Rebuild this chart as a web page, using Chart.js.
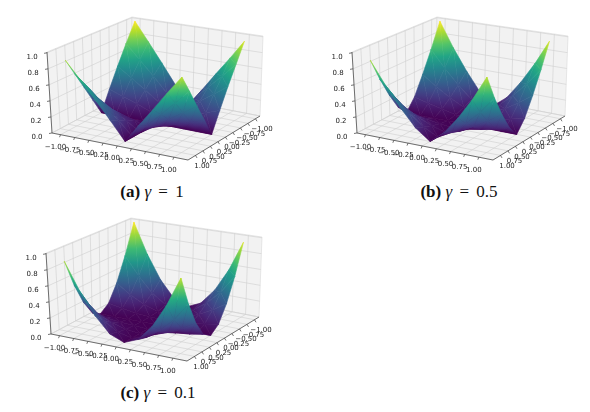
<!DOCTYPE html>
<html>
<head>
<meta charset="utf-8">
<script src="https://cdn.jsdelivr.net/npm/chart.js@4.4.0/dist/chart.umd.min.js"></script>
<style>
  body { margin: 0; background: #fff; width: 590px; height: 412px; position: relative; overflow: hidden; }
  .panel { position: absolute; }
  .cap { position: absolute; width: 200px; text-align: center; font-family: "Liberation Serif", serif; font-size: 17px; color: #111; line-height: 18px; }
  .cap i { font-style: italic; }
  .cap .eq { padding: 0 3px; }
</style>
</head>
<body>
<div class="panel" style="left:0;top:0"><canvas id="surfA" width="285" height="180"></canvas></div>
<div class="panel" style="left:305px;top:0"><canvas id="surfB" width="285" height="180"></canvas></div>
<div class="panel" style="left:-1px;top:201px"><canvas id="surfC" width="285" height="180"></canvas></div>
<div class="cap" style="left:52px;top:183px"><b>(a)</b> <i>γ</i> <span class="eq">=</span> 1</div>
<div class="cap" style="left:359px;top:183px"><b>(b)</b> <i>γ</i> <span class="eq">=</span> 0.5</div>
<div class="cap" style="left:58px;top:384px"><b>(c)</b> <i>γ</i> <span class="eq">=</span> 0.1</div>
<script>
// grid of the surface (x across columns, y down the rows)
var xVals = [-1, -0.75, -0.5, -0.25, 0, 0.25, 0.5, 0.75, 1];
var yVals = [-1, -0.75, -0.5, -0.25, 0, 0.25, 0.5, 0.75, 1];

// z, one row per y value
var zGamma1 = [
    [1.00, 0.75, 0.50, 0.25, 0, 0.24, 0.48, 0.71, 0.95],
    [0.75, 0.56, 0.38, 0.19, 0, 0.18, 0.36, 0.53, 0.71],
    [0.50, 0.38, 0.25, 0.13, 0, 0.12, 0.24, 0.36, 0.48],
    [0.25, 0.19, 0.13, 0.06, 0, 0.06, 0.12, 0.18, 0.24],
    [0, 0, 0, 0, 0, 0, 0, 0, 0],
    [0.22, 0.17, 0.11, 0.06, 0, 0.06, 0.11, 0.17, 0.23],
    [0.44, 0.33, 0.22, 0.11, 0, 0.11, 0.23, 0.34, 0.45],
    [0.66, 0.50, 0.33, 0.17, 0, 0.17, 0.34, 0.51, 0.68],
    [0.88, 0.66, 0.44, 0.22, 0, 0.23, 0.45, 0.68, 0.90]
];
var zGamma05 = [
    [1.00, 0.67, 0.39, 0.15, 0, 0.14, 0.37, 0.64, 0.95],
    [0.67, 0.45, 0.26, 0.10, 0, 0.10, 0.25, 0.43, 0.64],
    [0.39, 0.26, 0.15, 0.06, 0, 0.06, 0.14, 0.25, 0.37],
    [0.15, 0.10, 0.06, 0.02, 0, 0.02, 0.06, 0.10, 0.14],
    [0, 0, 0, 0, 0, 0, 0, 0, 0],
    [0.13, 0.09, 0.05, 0.02, 0, 0.02, 0.05, 0.09, 0.14],
    [0.34, 0.23, 0.13, 0.05, 0, 0.05, 0.14, 0.24, 0.35],
    [0.59, 0.40, 0.23, 0.09, 0, 0.09, 0.23, 0.40, 0.60],
    [0.88, 0.59, 0.34, 0.13, 0, 0.14, 0.35, 0.60, 0.90]
];
var zGamma01 = [
    [1.00, 0.60, 0.29, 0.08, 0, 0.08, 0.28, 0.57, 0.95],
    [0.60, 0.36, 0.17, 0.05, 0, 0.05, 0.17, 0.34, 0.57],
    [0.29, 0.17, 0.08, 0.02, 0, 0.02, 0.08, 0.17, 0.28],
    [0.08, 0.05, 0.02, 0.01, 0, 0.01, 0.02, 0.05, 0.08],
    [0, 0, 0, 0, 0, 0, 0, 0, 0],
    [0.07, 0.04, 0.02, 0.01, 0, 0.01, 0.02, 0.04, 0.07],
    [0.26, 0.15, 0.07, 0.02, 0, 0.02, 0.08, 0.16, 0.26],
    [0.53, 0.32, 0.15, 0.04, 0, 0.04, 0.16, 0.32, 0.54],
    [0.88, 0.53, 0.26, 0.07, 0, 0.07, 0.26, 0.54, 0.90]
];

var xTickVals = [-1, -0.75, -0.5, -0.25, 0, 0.25, 0.5, 0.75, 1];
var xTickLabels = ['\u22121.00', '\u22120.75', '\u22120.50', '\u22120.25', '0.00', '0.25', '0.50', '0.75', '1.00'];
var yTickVals = [-1, -0.75, -0.5, -0.25, 0, 0.25, 0.5, 0.75, 1];
var yTickLabels = ['\u22121.00', '\u22120.75', '\u22120.50', '\u22120.25', '0.00', '0.25', '0.50', '0.75', '1.00'];
var zTickVals = [0, 0.2, 0.4, 0.6, 0.8, 1.0];
var zTickLabels = ['0.0', '0.2', '0.4', '0.6', '0.8', '1.0'];

// axis limits and where the 8 corners of the box land in a panel
var LIM = { x: [-1.15, 1.25], y: [-1.15, 1.25], z: [0, 1.01] };
var BOX = {
    B0: [131, 91], R0: [260, 116], L0: [52, 133], F0: [188, 160],
    B1: [132, 17], R1: [263, 36], L1: [47, 52], F1: [189, 74]
};
var PANEL_W = 285, PANEL_H = 180;

var VIRIDIS = ['#440154', '#482475', '#414487', '#355f8d', '#2a788e', '#21918c',
               '#22a884', '#44bf70', '#7ad151', '#bddf26', '#fde725'];

function hexRgb(h) {
    return [parseInt(h.substr(1, 2), 16), parseInt(h.substr(3, 2), 16), parseInt(h.substr(5, 2), 16)];
}
var VIR_RGB = VIRIDIS.map(hexRgb);

function viridis(t) {
    t = Math.max(0, Math.min(1, t));
    var f = t * (VIR_RGB.length - 1), i = Math.min(Math.floor(f), VIR_RGB.length - 2), k = f - i;
    var a = VIR_RGB[i], b = VIR_RGB[i + 1];
    return 'rgb(' + Math.round(a[0] + (b[0] - a[0]) * k) + ',' +
        Math.round(a[1] + (b[1] - a[1]) * k) + ',' + Math.round(a[2] + (b[2] - a[2]) * k) + ')';
}

// data (x,y,z) -> panel coordinates, trilinear between the box corners
function proj(x, y, z) {
    var u = (x - LIM.x[0]) / (LIM.x[1] - LIM.x[0]);
    var v = (y - LIM.y[0]) / (LIM.y[1] - LIM.y[0]);
    var w = (z - LIM.z[0]) / (LIM.z[1] - LIM.z[0]);
    var out = [];
    for (var k = 0; k < 2; k++) {
        var lo = (1 - u) * (1 - v) * BOX.B0[k] + u * (1 - v) * BOX.R0[k] + (1 - u) * v * BOX.L0[k] + u * v * BOX.F0[k];
        var hi = (1 - u) * (1 - v) * BOX.B1[k] + u * (1 - v) * BOX.R1[k] + (1 - u) * v * BOX.L1[k] + u * v * BOX.F1[k];
        out.push((1 - w) * lo + w * hi);
    }
    return out;
}

// bigger = nearer to the viewer
function nearness(x, y, z) { return 0.44 * x + 0.83 * y + 0.47 * z; }

var surfacePlugin = {
    id: 'surface3d',
    beforeDatasetsDraw: function (chart, args, opts) {
        var ctx = chart.ctx, sx = chart.scales.x, sy = chart.scales.y;
        var grid = opts.grid;
        function P(x, y, z) {
            var p = proj(x, y, z);
            return [sx.getPixelForValue(p[0]), sy.getPixelForValue(p[1])];
        }
        function poly(pts) {
            ctx.beginPath();
            ctx.moveTo(pts[0][0], pts[0][1]);
            for (var i = 1; i < pts.length; i++) ctx.lineTo(pts[i][0], pts[i][1]);
            ctx.closePath();
        }
        function line(a, b) {
            ctx.beginPath(); ctx.moveTo(a[0], a[1]); ctx.lineTo(b[0], b[1]); ctx.stroke();
        }
        var x0 = LIM.x[0], x1 = LIM.x[1], y0 = LIM.y[0], y1 = LIM.y[1], z0 = LIM.z[0], z1 = LIM.z[1];
        ctx.save();

        // panes
        var panes = [
            [P(x0, y0, z0), P(x0, y1, z0), P(x0, y1, z1), P(x0, y0, z1)],
            [P(x0, y0, z0), P(x1, y0, z0), P(x1, y0, z1), P(x0, y0, z1)],
            [P(x0, y0, z0), P(x1, y0, z0), P(x1, y1, z0), P(x0, y1, z0)]
        ];
        ctx.fillStyle = '#f2f2f2';
        ctx.strokeStyle = '#d9d9d9';
        ctx.lineWidth = 0.6;
        panes.forEach(function (p) { poly(p); ctx.fill(); ctx.stroke(); });

        // grid lines
        ctx.strokeStyle = '#cfcfcf';
        ctx.lineWidth = 0.6;
        xTickVals.forEach(function (t) {
            line(P(t, y0, z0), P(t, y1, z0));
            line(P(t, y0, z0), P(t, y0, z1));
        });
        yTickVals.forEach(function (t) {
            line(P(x0, t, z0), P(x1, t, z0));
            line(P(x0, t, z0), P(x0, t, z1));
        });
        zTickVals.forEach(function (t) {
            line(P(x0, y1, t), P(x0, y0, t));
            line(P(x0, y0, t), P(x1, y0, t));
        });

        // axis lines, ticks, labels
        ctx.strokeStyle = '#3a3a3a';
        ctx.lineWidth = 0.7;
        line(P(x0, y1, z0), P(x1, y1, z0));
        line(P(x1, y1, z0), P(x1, y0, z0));
        line(P(x0, y1, z0), P(x0, y1, z1));
        ctx.font = '7px "DejaVu Sans"';
        ctx.fillStyle = '#222';
        ctx.textAlign = 'center';
        ctx.textBaseline = 'middle';
        xTickVals.forEach(function (t, i) {
            var p = P(t, y1, z0);
            line(p, [p[0] - 1, p[1] + 2.5]);
            ctx.fillText(xTickLabels[i], p[0] - 5, p[1] + 12.5);
        });
        yTickVals.forEach(function (t, i) {
            var p = P(x1, t, z0);
            line(p, [p[0] + 1.5, p[1] + 2.5]);
            ctx.fillText(yTickLabels[i], p[0] + 6.5, p[1] + 10.5);
        });
        zTickVals.forEach(function (t, i) {
            var p = P(x0, y1, t);
            line(p, [p[0] - 3, p[1] + 0.5]);
            ctx.fillText(zTickLabels[i], p[0] - 15, p[1] + 4);
        });

        // surface: two triangles per cell, far ones first
        var tris = [];
        for (var j = 0; j < yVals.length - 1; j++) {
            for (var i = 0; i < xVals.length - 1; i++) {
                var c = [[i, j], [i + 1, j], [i + 1, j + 1], [i, j + 1]].map(function (q) {
                    var x = xVals[q[0]], y = yVals[q[1]], z = grid[q[1]][q[0]];
                    var p = P(x, y, z);
                    return { X: p[0], Y: p[1], z: z, n: nearness(x, y, z) };
                });
                tris.push([c[0], c[1], c[2]]);
                tris.push([c[0], c[2], c[3]]);
            }
        }
        tris.forEach(function (t) { t.n = (t[0].n + t[1].n + t[2].n) / 3; });
        tris.sort(function (a, b) { return a.n - b.n; });

        ctx.lineJoin = 'round';
        ctx.lineWidth = 0.6;
        tris.forEach(function (t) {
            var a = t[0], b = t[1], c = t[2];
            var zmin = Math.min(a.z, b.z, c.z), zmax = Math.max(a.z, b.z, c.z);
            var dx1 = b.X - a.X, dy1 = b.Y - a.Y, dx2 = c.X - a.X, dy2 = c.Y - a.Y;
            var dz1 = b.z - a.z, dz2 = c.z - a.z;
            var det = dx1 * dy2 - dx2 * dy1;
            var style;
            if (Math.abs(det) < 1e-6 || zmax - zmin < 1e-4) {
                style = viridis((a.z + b.z + c.z) / 3);
            } else {
                var gx = (dz1 * dy2 - dz2 * dy1) / det;
                var gy = (dx1 * dz2 - dx2 * dz1) / det;
                var g2 = gx * gx + gy * gy;
                var s0 = (zmin - a.z) / g2, s1 = (zmax - a.z) / g2;
                style = ctx.createLinearGradient(a.X + gx * s0, a.Y + gy * s0, a.X + gx * s1, a.Y + gy * s1);
                for (var k = 0; k <= 4; k++) {
                    style.addColorStop(k / 4, viridis(zmin + (zmax - zmin) * k / 4));
                }
            }
            poly([[a.X, a.Y], [b.X, b.Y], [c.X, c.Y]]);
            ctx.fillStyle = style;
            ctx.strokeStyle = style;
            ctx.fill();
            ctx.stroke();
        });
        ctx.restore();
    }
};

function surfacePoints(grid) {
    var pts = [];
    yVals.forEach(function (y, j) {
        xVals.forEach(function (x, i) {
            var p = proj(x, y, grid[j][i]);
            pts.push({ x: p[0], y: p[1] });
        });
    });
    return pts;
}

function crearSuperficie(id, grid) {
    var ctx = document.getElementById(id);
    if (!ctx) return;
    return new Chart(ctx, {
        type: 'scatter',
        data: {
            datasets: [{
                label: 'z',
                data: surfacePoints(grid),
                pointRadius: 0,
                showLine: false
            }]
        },
        options: {
            responsive: false,
            animation: false,
            layout: { padding: 0 },
            plugins: {
                legend: { display: false },
                tooltip: { enabled: false },
                surface3d: { grid: grid }
            },
            scales: {
                x: { type: 'linear', display: false, min: 0, max: PANEL_W },
                y: { type: 'linear', display: false, min: 0, max: PANEL_H, reverse: true }
            }
        },
        plugins: [surfacePlugin]
    });
}

crearSuperficie('surfA', zGamma1);
crearSuperficie('surfB', zGamma05);
crearSuperficie('surfC', zGamma01);
</script>
</body>
</html>
